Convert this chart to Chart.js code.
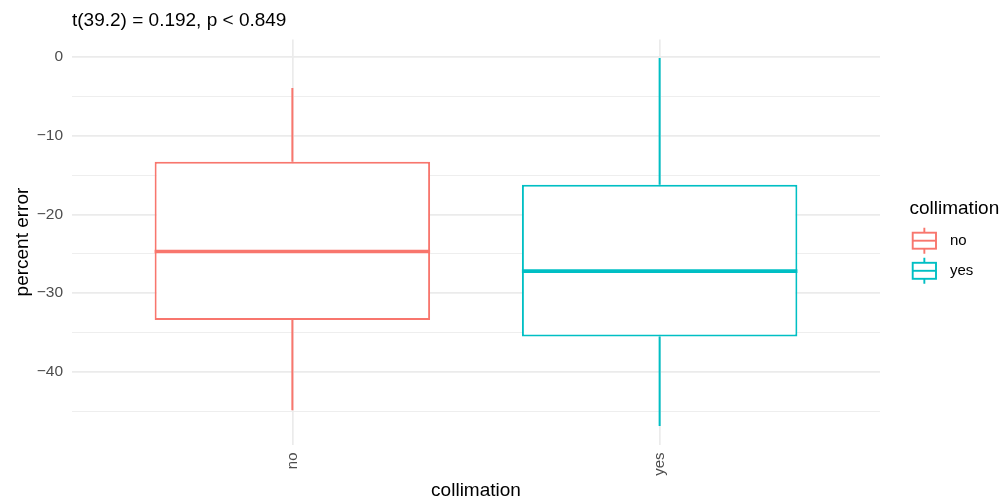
<!DOCTYPE html>
<html>
<head>
<meta charset="utf-8">
<script src="https://cdn.jsdelivr.net/npm/chart.js@4"></script>
<style>
  html, body { margin: 0; padding: 0; background: #fff; }
  #wrap { width: 1004px; height: 502px; }
</style>
</head>
<body>
<div id="wrap"><canvas id="boxChart"></canvas></div>
<script>
// Boxplot values
const categories = ['no', 'yes'];
const whiskerLow = [-44.9, -46.9];
const lowerHinge = [-33.4, -35.5];
const medians = [-24.7, -27.2];
const upperHinge = [-13.3, -16.2];
const whiskerHigh = [-3.9, -0.1];
const colors = ['#F8766D', '#00BFC4'];
const yTicks = [-45, -40, -35, -30, -25, -20, -15, -10, -5, 0];
const yLabelTicks = [-40, -30, -20, -10, 0];
const titleText = 't(39.2) = 0.192, p < 0.849';

const FONT = '"Liberation Sans", Arial, sans-serif';

// ggplot style 5% expansion of the y range
const yLo = Math.min(...whiskerLow);
const yHi = Math.max(...whiskerHigh);
const yPad = (yHi - yLo) * 0.05;

const xs = categories.map((c, i) => i + 1);

// median lines + subtitle + legend
const boxExtras = {
  id: 'boxExtras',
  afterDatasetsDraw(chart) {
    const ctx = chart.ctx;
    const y = chart.scales.y;
    const boxes = chart.getDatasetMeta(0).data;
    ctx.save();
    ctx.lineWidth = 3.6;
    boxes.forEach((bar, i) => {
      const py = y.getPixelForValue(medians[i]);
      ctx.strokeStyle = colors[i];
      ctx.beginPath();
      ctx.moveTo(bar.x - bar.width / 2, py);
      ctx.lineTo(bar.x + bar.width / 2, py);
      ctx.stroke();
    });
    ctx.restore();
  },
  afterDraw(chart) {
    const ctx = chart.ctx;
    const area = chart.chartArea;
    ctx.save();
    ctx.fillStyle = '#000';
    ctx.textBaseline = 'alphabetic';
    ctx.textAlign = 'left';
    ctx.font = '19px ' + FONT;
    ctx.fillText(titleText, area.left, 25.7);

    // legend
    const lx = area.right + 29.5;
    ctx.fillText('collimation', lx, 213.6);
    const keyTop = [240.7, 270.8];
    ctx.font = '15px ' + FONT;
    ctx.textBaseline = 'middle';
    categories.forEach((c, i) => {
      const cy = keyTop[i];
      const kx = lx + 3.2;
      const kw = 23.3;
      ctx.strokeStyle = colors[i];
      ctx.lineWidth = 1.9;
      ctx.beginPath();
      ctx.moveTo(kx + kw / 2, cy - 13);
      ctx.lineTo(kx + kw / 2, cy - 8);
      ctx.moveTo(kx + kw / 2, cy + 8);
      ctx.lineTo(kx + kw / 2, cy + 13);
      ctx.stroke();
      ctx.strokeRect(kx, cy - 8, kw, 16);
      ctx.beginPath();
      ctx.moveTo(kx, cy);
      ctx.lineTo(kx + kw, cy);
      ctx.stroke();
      ctx.fillStyle = '#000';
      ctx.fillText(c, lx + 40.5, cy + 0.5);
    });
    ctx.restore();
  }
};

const ctx = document.getElementById('boxChart').getContext('2d');
const boxChart = new Chart(ctx, {
  type: 'bar',
  data: {
    datasets: [
      {
        label: 'box',
        data: xs.map((x, i) => ({ x: x, y: [lowerHinge[i], upperHinge[i]] })),
        backgroundColor: '#ffffff',
        borderColor: colors,
        borderWidth: 2,
        borderSkipped: false,
        grouped: false,
        categoryPercentage: 0.75,
        barPercentage: 1
      },
      {
        label: 'upper whisker',
        data: xs.map((x, i) => ({ x: x, y: [upperHinge[i], whiskerHigh[i]] })),
        backgroundColor: colors,
        borderWidth: 0,
        grouped: false,
        maxBarThickness: 2
      },
      {
        label: 'lower whisker',
        data: xs.map((x, i) => ({ x: x, y: [whiskerLow[i], lowerHinge[i]] })),
        backgroundColor: colors,
        borderWidth: 0,
        grouped: false,
        maxBarThickness: 2
      }
    ]
  },
  options: {
    responsive: true,
    maintainAspectRatio: false,
    animation: false,
    layout: { padding: { top: 39.6, right: 124, bottom: 0, left: 0 } },
    plugins: {
      legend: { display: false },
      tooltip: { enabled: false }
    },
    scales: {
      x: {
        type: 'linear',
        min: 0.4,
        max: 2.6,
        offset: false,
        afterBuildTicks: scale => { scale.ticks = xs.map(v => ({ value: v })); },
        afterFit: scale => { scale.height = 57.5; },
        ticks: {
          callback: v => categories[v - 1],
          minRotation: 90,
          maxRotation: 90,
          padding: 8,
          color: '#4D4D4D',
          font: { family: FONT, size: 15 }
        },
        grid: { color: '#EBEBEB', lineWidth: 1.7, drawTicks: false, offset: false },
        border: { display: false },
        title: {
          display: true,
          text: 'collimation',
          color: '#000',
          font: { family: FONT, size: 19, lineHeight: 1 },
          padding: { top: 0, bottom: 2.2 }
        }
      },
      y: {
        min: yLo - yPad,
        max: yHi + yPad,
        afterBuildTicks: scale => { scale.ticks = yTicks.map(v => ({ value: v })); },
        afterFit: scale => { scale.width = 72; },
        ticks: {
          callback: v => yLabelTicks.includes(v) ? String(v).replace('-', '\u2212') : '',
          padding: 9,
          color: '#4D4D4D',
          font: { family: FONT, size: 15.5 }
        },
        grid: {
          color: '#EBEBEB',
          lineWidth: c => (c.tick && yLabelTicks.includes(c.tick.value)) ? 1.7 : 0.85,
          drawTicks: false
        },
        border: { display: false },
        title: {
          display: true,
          text: 'percent error',
          color: '#000',
          font: { family: FONT, size: 19, lineHeight: 1 },
          padding: { top: 13, bottom: 0 }
        }
      }
    }
  },
  plugins: [boxExtras]
});
</script>
</body>
</html>
